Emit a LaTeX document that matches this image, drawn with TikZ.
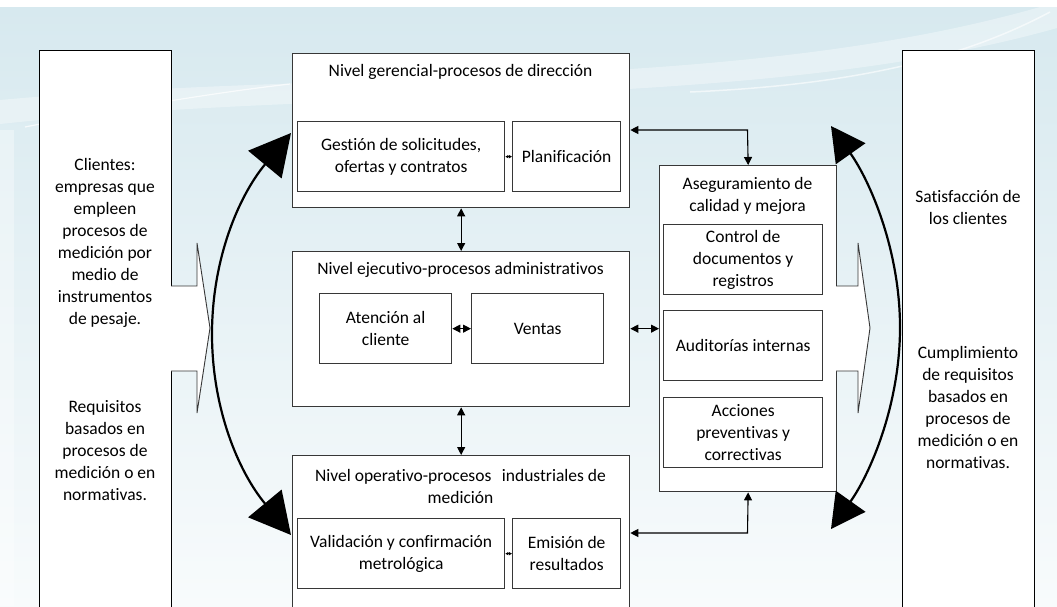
\documentclass[tikz,border=0pt]{standalone}
\usepackage{fontspec}
\setmainfont{Carlito}[Ligatures={NoCommon}]
\usetikzlibrary{arrows.meta}
\definecolor{bgtop}{RGB}{215,233,239}
\definecolor{bgmid}{RGB}{226,239,244}
\definecolor{bgbot}{RGB}{248,251,252}
\definecolor{frame}{RGB}{55,55,55}

\begin{document}
\begin{tikzpicture}[x=1pt,y=-1pt,
  every node/.style={font=\fontsize{17.5}{22}\selectfont},
  panel/.style={draw=frame, fill=white, line width=1.3pt, inner sep=0pt, anchor=north west},
  tall/.style={draw=black, fill=white, line width=1.4pt, inner sep=0pt, anchor=north west},
  txt/.style={align=center, inner sep=0pt},
  blockarrow/.style={draw=frame, fill=white, line width=0.9pt, line join=miter},
  conn/.style={line width=1.1pt, {Triangle[length=8pt,width=8pt]}-{Triangle[length=8pt,width=8pt]}},
  tinyconn/.style={line width=1pt, {Triangle[length=3pt,width=3pt]}-{Triangle[length=3pt,width=3pt]}},
  bigarcL/.style={line width=2.2pt, {Triangle[length=41pt,width=43pt]}-{Triangle[length=41pt,width=43pt]}},
  bigarcR/.style={line width=2.2pt, {Triangle[length=34pt,width=36pt]}-{Triangle[length=34pt,width=36pt]}},
]
\useasboundingbox (0,0) rectangle (1057,606);
\clip (0,0) rectangle (1057,606);

% backdrop
\fill[white] (0,0) rectangle (1057,606);
\shade[top color=bgtop, middle color=bgmid, bottom color=bgbot] (0,7) rectangle (1057,606);
\fill[white, opacity=0.35] (0,100) .. controls (350,68) and (750,95) .. (1057,2)
  -- (1057,28) .. controls (760,112) and (350,86) .. (0,124) -- cycle;
\draw[white, opacity=0.7, line width=1.2pt] (25,127) .. controls (120,108) and (220,92) .. (290,84);
\draw[white, opacity=0.6, line width=1.5pt] (690,92) .. controls (850,85) and (960,60) .. (1050,12);
\fill[white, opacity=0.35] (0,130) rectangle (14,606);

% outer columns
\node[tall, minimum width=132pt, minimum height=570pt] (cli) at (39,50) {};
\node[tall, minimum width=132pt, minimum height=570pt] (sat) at (902,50) {};

\node[txt] (cliA) at (105,243) {Clientes:\\empresas que\\empleen\\procesos de\\medición por\\medio de\\instrumentos\\de pesaje.};
\node[txt] (cliB) at (105,451) {Requisitos\\basados en\\procesos de\\medición o en\\normativas.};
\node[txt] (satA) at (968,207) {Satisfacción de\\los clientes};
\node[txt] (satB) at (968,407) {Cumplimiento\\de requisitos\\basados en\\procesos de\\medición o en\\normativas.};

% input / output block arrows
\draw[blockarrow] (171,286) -- (197,286) -- (197,243) -- (210,328) -- (197,413) -- (197,371) -- (171,371);

% management level
\node[panel, minimum width=337pt, minimum height=154pt] (ger) at (292,53) {};
\node[txt] (gerT) at (460.5,72) {Nivel gerencial-procesos de dirección};
\node[panel, minimum width=207pt, minimum height=70pt] (ges) at (297,121) {};
\node[txt] (gesT) at (ges.center) {Gestión de solicitudes,\\ofertas y contratos};
\node[panel, minimum width=108pt, minimum height=70pt] (pla) at (512,121) {};
\node[txt] (plaT) at (pla.center) {Planificación};

% executive level
\node[panel, minimum width=337pt, minimum height=155pt] (eje) at (292,251) {};
\node[txt] (ejeT) at (460.5,270) {Nivel ejecutivo-procesos administrativos};
\node[panel, minimum width=132pt, minimum height=70pt] (ate) at (319,293) {};
\node[txt] (ateT) at (ate.center) {Atención al\\cliente};
\node[panel, minimum width=132pt, minimum height=70pt] (ven) at (471,293) {};
\node[txt] (venT) at (ven.center) {Ventas};

% operative level
\node[panel, minimum width=337pt, minimum height=165pt] (ope) at (292,455) {};
\node[txt] (opeT) at (460.5,486) {Nivel operativo-procesos\hspace{0.6em}industriales de\\medición};
\node[panel, minimum width=207pt, minimum height=70pt] (val) at (297,518) {};
\node[txt] (valT) at (val.center) {Validación y confirmación\\metrológica};
\node[panel, minimum width=108pt, minimum height=70pt] (emi) at (512,518) {};
\node[txt] (emiT) at (emi.center) {Emisión de\\resultados};

% quality assurance
\node[panel, minimum width=177pt, minimum height=326pt] (ase) at (659,165) {};
\node[txt] (aseT) at (747.5,196) {Aseguramiento de\\calidad y mejora};
\node[panel, minimum width=159pt, minimum height=70pt] (ctl) at (663,224) {};
\node[txt] (ctlT) at (ctl.center) {Control de\\documentos y\\registros};
\node[panel, minimum width=159pt, minimum height=70pt] (aud) at (663,310) {};
\node[txt] (audT) at (aud.center) {Auditorías internas};
\node[panel, minimum width=159pt, minimum height=70pt] (acc) at (663,397) {};
\node[txt] (accT) at (acc.center) {Acciones\\preventivas y\\correctivas};

\draw[blockarrow] (836,286) -- (858,286) -- (858,243) -- (870,328) -- (858,413) -- (858,371) -- (836,371);

% links
\coordinate (kTop) at (747.5,130);
\coordinate (kBot) at (747.5,533);
\draw[conn] (ger.north east |- kTop) -- (kTop) -- (ase.north);
\draw[conn] (ope.north east |- kBot) -- (kBot) -- (ase.south);
\draw[conn] (ger.south) -- (eje.north);
\draw[conn] (eje.south) -- (ope.north);
\draw[conn] (eje.east |- ase.west) -- (ase.west);
\draw[conn] (ate.east) -- (ven.west);
\draw[tinyconn] (ges.east) -- (pla.west);
\draw[tinyconn] (val.east) -- (emi.west);

% feedback arcs
\coordinate (la1) at (291,133);
\coordinate (la2) at (291,535);
\draw[bigarcL] (la1) .. controls (238,197) and (212,260) .. (212,334)
  .. controls (212,408) and (238,471) .. (la2);
\coordinate (ra1) at (831,126);
\coordinate (ra2) at (831,529);
\draw[bigarcR] (ra1) .. controls (870,181) and (900,250) .. (900,327.5)
  .. controls (900,405) and (870,474) .. (ra2);
\end{tikzpicture}
\end{document}
